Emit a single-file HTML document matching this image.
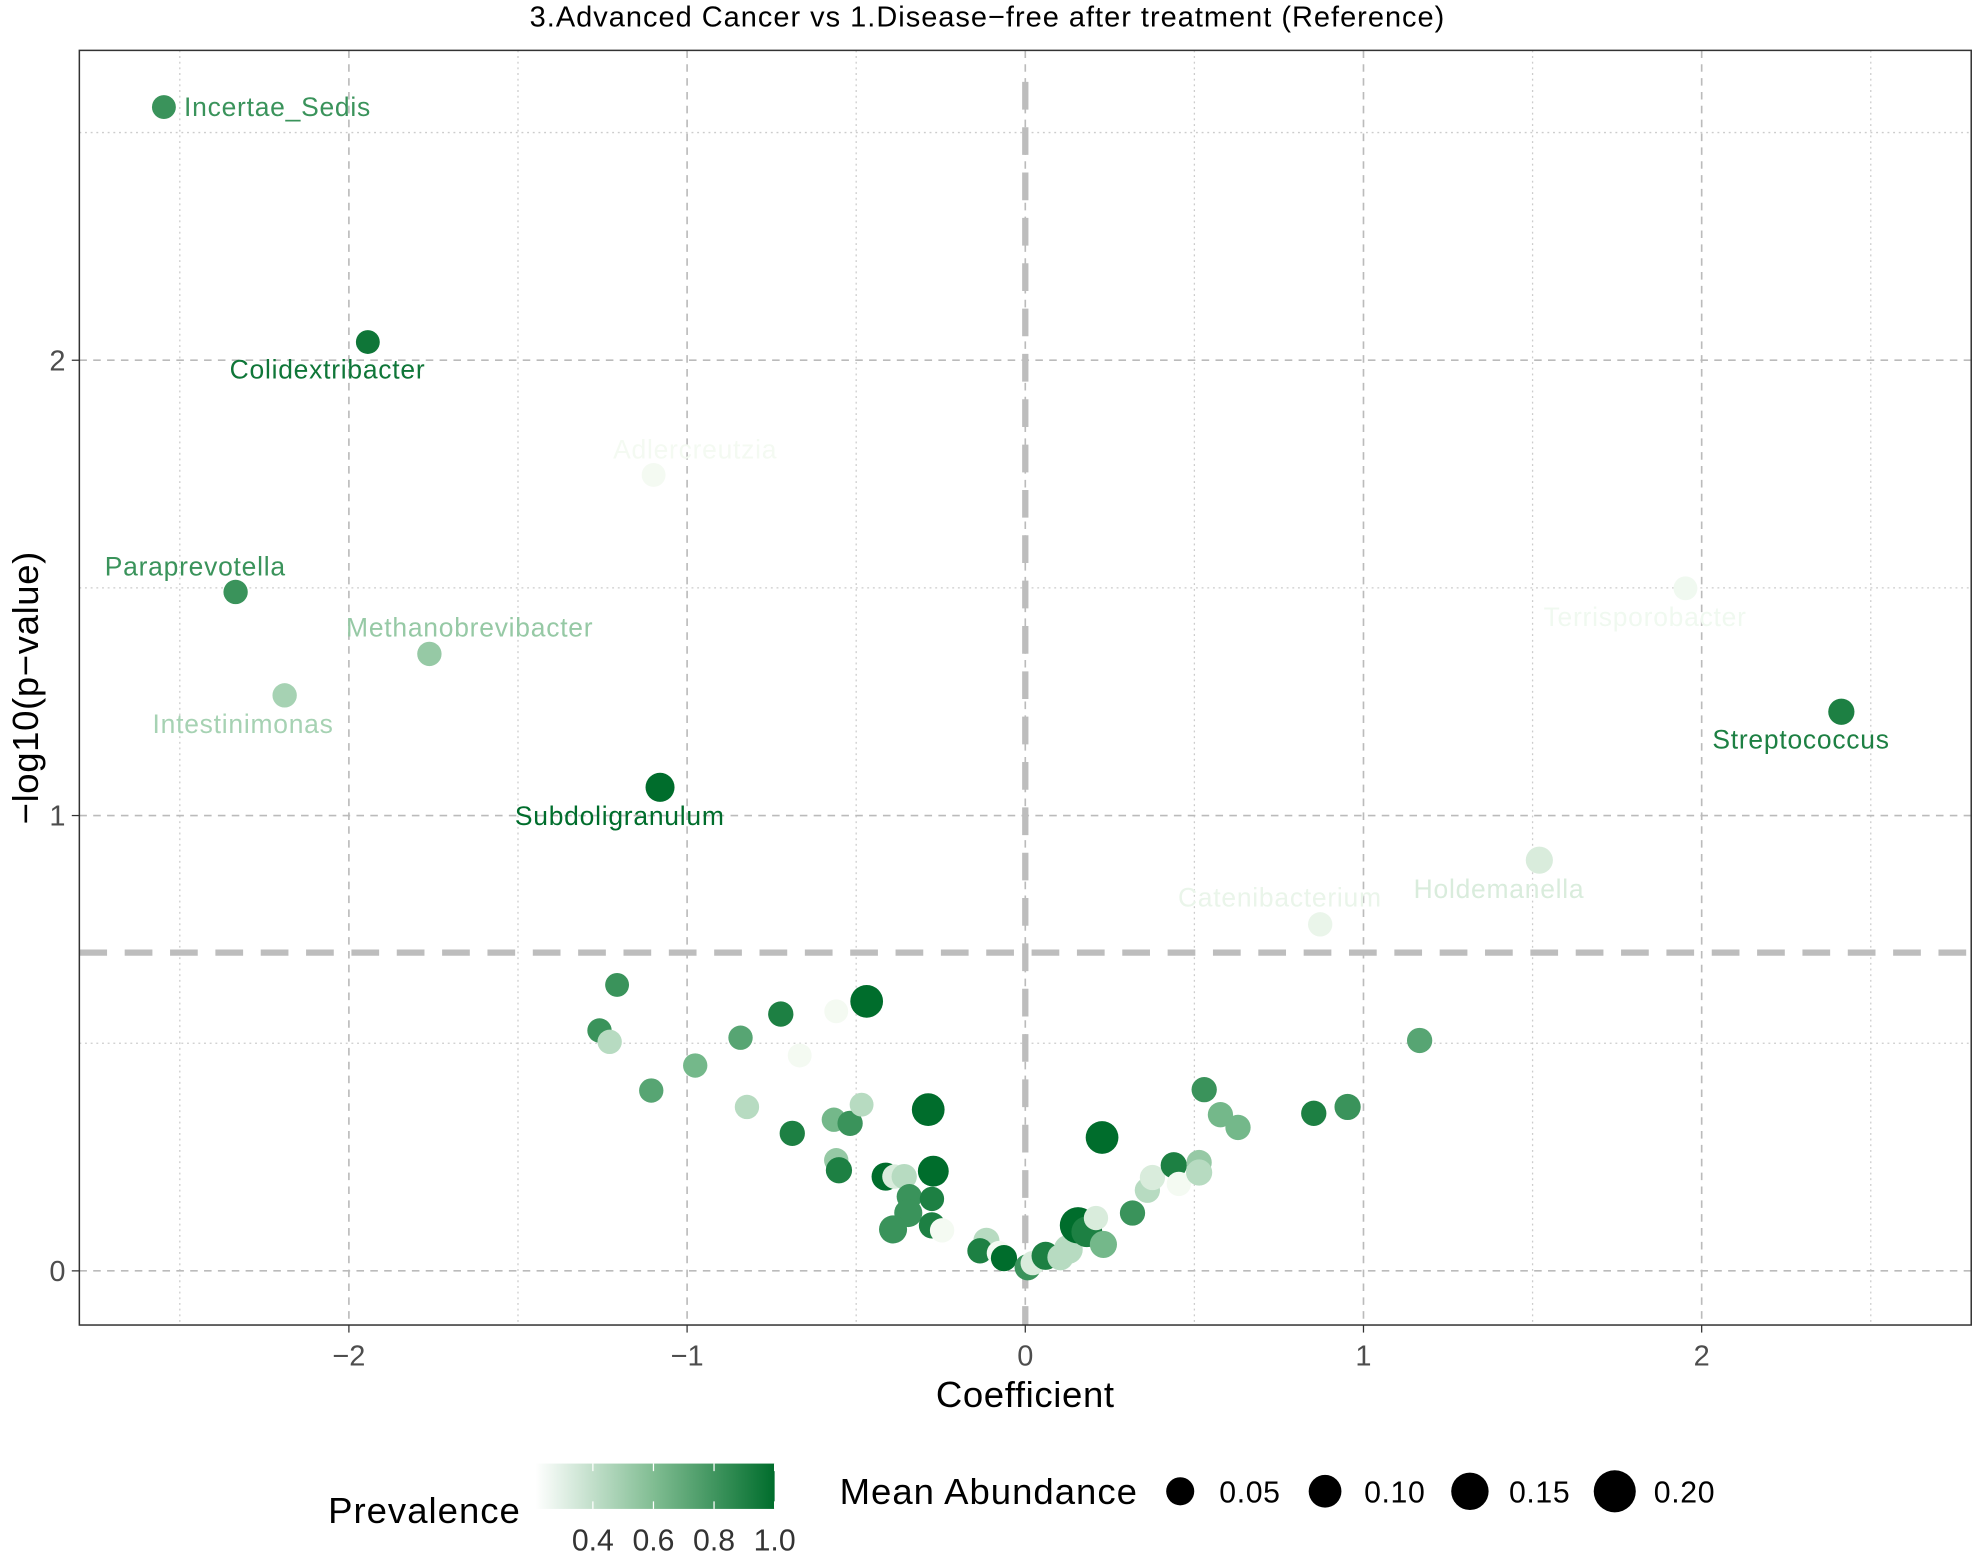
<!DOCTYPE html>
<html><head><meta charset="utf-8"><style>
html,body{margin:0;padding:0;background:#fff;}
svg{display:block;font-family:"Liberation Sans",sans-serif;}
</style></head><body>
<svg id="chart" width="1975" height="1553" viewBox="0 0 1568 1233" preserveAspectRatio="none" xmlns="http://www.w3.org/2000/svg">
<g id="grid"></g>
<g id="marks"></g>
<g id="labels"></g>
<rect x="63" y="40" width="1502" height="1012" fill="none" stroke="#333" stroke-width="1.2"/>
<text x="784" y="21" font-size="23" letter-spacing="0.8" text-anchor="middle" fill="#000">3.Advanced Cancer vs 1.Disease−free after treatment (Reference)</text>
<text x="814" y="1117" font-size="29" letter-spacing="0.5" text-anchor="middle">Coefficient</text>
<text transform="translate(30,546) rotate(-90)" font-size="29" letter-spacing="0.5" text-anchor="middle">−log10(p−value)</text>
<g id="axes"></g>
<g>
<defs><linearGradient id="pg" x1="0" x2="1" y1="0" y2="0"><stop offset="0" stop-color="#ffffff"/><stop offset="0.5" stop-color="#7fbc91"/><stop offset="1" stop-color="#006d2c"/></linearGradient></defs>
<text x="337" y="1209" font-size="29" letter-spacing="0.8" text-anchor="middle">Prevalence</text>
<rect x="425" y="1162" width="190" height="36" fill="url(#pg)"/>
<g id="cbticks"></g>
</g>
<g id="sizeleg">
<text x="785" y="1194" font-size="29" letter-spacing="0.8" text-anchor="middle">Mean Abundance</text>
</g>
</svg>
<script>
const coef=[-2.547,-1.944,-1.099,-2.335,-1.762,-2.19,-1.08,1.952,2.413,1.52,0.872,
-1.207,-1.259,-1.229,-1.106,-0.976,-0.842,-0.823,-0.723,-0.667,-0.689,-0.559,-0.469,-0.566,-0.518,-0.484,-0.559,-0.551,-0.287,-0.272,-0.413,-0.387,-0.358,-0.343,-0.346,-0.276,-0.391,-0.276,-0.246,-0.115,-0.134,-0.078,-0.063,0.007,0.022,0.060,0.104,0.127,0.156,0.182,0.209,0.231,0.227,0.317,0.361,0.376,0.439,0.454,0.514,0.514,0.529,0.577,0.629,0.853,0.953,1.166];
const logp=[2.556,2.04,1.748,1.491,1.355,1.264,1.062,1.499,1.228,0.902,0.761,
0.628,0.528,0.503,0.396,0.451,0.512,0.360,0.564,0.473,0.302,0.570,0.592,0.332,0.324,0.365,0.243,0.221,0.354,0.219,0.207,0.207,0.207,0.163,0.127,0.158,0.091,0.100,0.089,0.066,0.044,0.039,0.028,0.008,0.017,0.033,0.030,0.047,0.100,0.086,0.116,0.058,0.293,0.127,0.177,0.205,0.232,0.191,0.238,0.216,0.398,0.343,0.315,0.346,0.360,0.506];
const prevalence=[0.8,0.95,0.22,0.8,0.5,0.45,1.0,0.23,0.9,0.3,0.25,
0.8,0.8,0.4,0.7,0.6,0.7,0.4,0.9,0.22,0.9,0.22,1.0,0.6,0.8,0.4,0.5,0.9,1.0,1.0,1.0,0.3,0.4,0.8,0.8,0.9,0.8,0.9,0.22,0.4,0.9,0.22,1.0,0.8,0.3,0.9,0.4,0.4,1.0,0.9,0.3,0.6,1.0,0.8,0.4,0.3,0.9,0.22,0.5,0.4,0.8,0.6,0.6,0.9,0.8,0.7];
const abundance=[0.005,0.005,0.005,0.01,0.01,0.01,0.06,0.005,0.03,0.04,0.01,
0.005,0.01,0.01,0.01,0.01,0.01,0.01,0.02,0.005,0.02,0.005,0.1,0.01,0.02,0.005,0.01,0.03,0.1,0.08,0.05,0.01,0.02,0.02,0.05,0.01,0.05,0.03,0.01,0.03,0.02,0.01,0.03,0.03,0.01,0.05,0.03,0.06,0.14,0.08,0.01,0.04,0.1,0.02,0.02,0.02,0.03,0.01,0.02,0.03,0.02,0.02,0.02,0.02,0.03,0.02];
const names=["Incertae_Sedis","Colidextribacter","Adlercreutzia","Paraprevotella","Methanobrevibacter","Intestinimonas","Subdoligranulum","Terrisporobacter","Streptococcus","Holdemanella","Catenibacterium"];
const labelDx=[16,-32,33,-32,32,-33,-32,-32,-32,-32,-32];
const labelDy=[7,29,-13,-13,-14,30,30,30,29,30,-14];
const xTicks=[-2,-1,0,1,2];
const yTicks=[0,1,2];
const cbTicks=[0.4,0.6,0.8,1.0];
const sizeTicks=[0.05,0.10,0.15,0.20];

const NS="http://www.w3.org/2000/svg";
const X=v=>814+v*268.5, Y=v=>1009-v*361.5;
const R=a=>9.3+37*a;
function lerp(a,b,t){return a.map((v,i)=>Math.round(v+(b[i]-v)*t));}
function col(p){const s0=[247,252,245],s1=[116,184,138],s2=[0,109,44];
 p=Math.max(0.21,Math.min(1,p));
 const c=p<0.6?lerp(s0,s1,(p-0.21)/0.39):lerp(s1,s2,(p-0.6)/0.4);return `rgb(${c})`;}
function mk(tag,attrs,parent){const e=document.createElementNS(NS,tag);for(const k in attrs)e.setAttribute(k,attrs[k]);parent.appendChild(e);return e;}
const grid=document.getElementById('grid');
for(const v of [-2.5,-1.5,-0.5,0.5,1.5,2.5]){const l=mk('line',{x1:X(v),x2:X(v),y1:40,y2:1052,stroke:'#ccc','stroke-dasharray':'1.5 3','stroke-width':1},grid);

}
for(const v of [0.5,1.5,2.5]){const l=mk('line',{x1:63,x2:1565,y1:Y(v),y2:Y(v),stroke:'#ccc','stroke-dasharray':'1.5 3','stroke-width':1},grid);

}
for(const v of xTicks){const l=mk('line',{x1:X(v),x2:X(v),y1:40,y2:1052,stroke:'#bbb','stroke-dasharray':'6 5','stroke-width':1.3},grid);

}
for(const v of yTicks){const l=mk('line',{x1:63,x2:1565,y1:Y(v),y2:Y(v),stroke:'#bbb','stroke-dasharray':'6 5','stroke-width':1.3},grid);

}
const vl=mk('line',{x1:X(0),x2:X(0),y1:65,y2:1052,stroke:'#bdbdbd','stroke-width':5,'stroke-dasharray':'22 14'},grid);


const hl=mk('line',{x1:63,x2:1565,y1:Y(0.699),y2:Y(0.699),stroke:'#bdbdbd','stroke-width':5,'stroke-dasharray':'22 14'},grid);


const marks=document.getElementById('marks');
coef.forEach((c,i)=>{const e=mk('circle',{cx:X(c),cy:Y(logp[i]),r:R(abundance[i]),fill:col(prevalence[i])},marks);

});
const labels=document.getElementById('labels');
names.forEach((n,i)=>{const anchor=i===0?'start':'middle';
 const t=mk('text',{x:X(coef[i])+labelDx[i],y:Y(logp[i])+labelDy[i],'font-size':21,'letter-spacing':0.6,'text-anchor':anchor,fill:col(prevalence[i])},labels);t.textContent=n;

});
const axes=document.getElementById('axes');
xTicks.forEach(v=>{mk('line',{x1:X(v),x2:X(v),y1:1052,y2:1058,stroke:'#333'},axes);
 const t=mk('text',{x:X(v),y:1084,'font-size':23,'text-anchor':'middle',fill:'#4d4d4d'},axes);t.textContent=v<0?'−'+(-v):v;

});
yTicks.forEach(v=>{mk('line',{x1:57,x2:63,y1:Y(v),y2:Y(v),stroke:'#333'},axes);
 const t=mk('text',{x:52,y:Y(v)+8,'font-size':23,'text-anchor':'end',fill:'#4d4d4d'},axes);t.textContent=v;

});
const cb=document.getElementById('cbticks');
const CB=v=>425+(v-0.21)/0.79*190;
cbTicks.forEach(v=>{mk('line',{x1:CB(v),x2:CB(v),y1:1162,y2:1168,stroke:'#fff'},cb);mk('line',{x1:CB(v),x2:CB(v),y1:1192,y2:1198,stroke:'#fff'},cb);
 const t=mk('text',{x:CB(v),y:1231,'font-size':24,'text-anchor':'middle',fill:'#333'},cb);t.textContent=v.toFixed(1);

});
const sl=document.getElementById('sizeleg');
sizeTicks.forEach((v,i)=>{const cx=937+i*115;
 const c=mk('circle',{cx:cx,cy:1184,r:R(v),fill:'#000'},sl);


 const t=mk('text',{x:cx+31,y:1193,'font-size':24,'letter-spacing':0.5,fill:'#000'},sl);t.textContent=v.toFixed(2);

});
</script>
</body></html>
